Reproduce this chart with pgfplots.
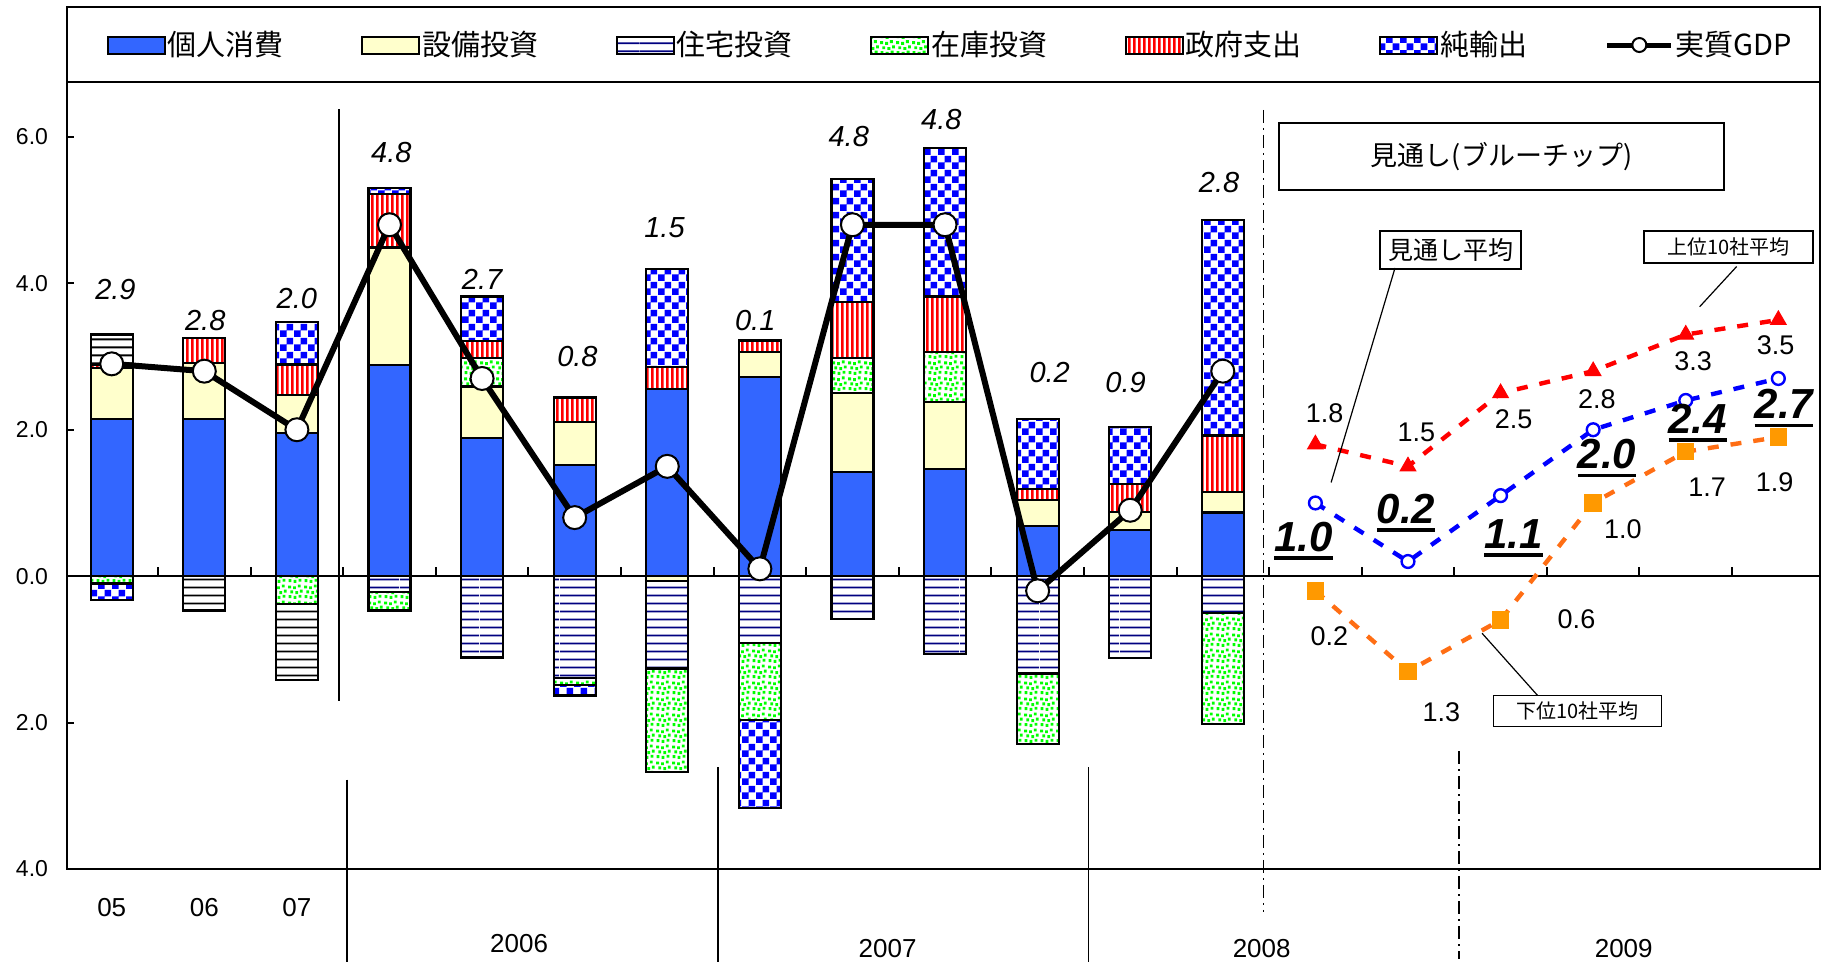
\documentclass[border=0pt]{standalone}
\usepackage{fontspec}
\setmainfont{Liberation Sans}
\newfontfamily\jp{Noto Sans CJK JP}
\usepackage{pgfplots}
\pgfplotsset{compat=1.18}
\usepackage{pgfplotstable}
\usetikzlibrary{patterns}

\definecolor{cons}{RGB}{51,102,255}
\definecolor{capex}{RGB}{255,255,204}
\definecolor{hnavy}{RGB}{0,0,128}
\definecolor{dotg}{RGB}{0,255,0}
\definecolor{omark}{RGB}{255,153,0}
\definecolor{oline}{RGB}{255,110,20}

% fill patterns (horizontal lines, vertical stripes, checker, dots)
\pgfdeclarepatternformonly{hl}{\pgfpointorigin}{\pgfpoint{40bp}{4bp}}{\pgfpoint{40bp}{4bp}}%
  {\pgfpathrectangle{\pgfpoint{0bp}{1.5bp}}{\pgfpoint{40bp}{1bp}}\pgfusepath{fill}}
\pgfdeclarepatternformonly{vl}{\pgfpointorigin}{\pgfpoint{2.4bp}{40bp}}{\pgfpoint{2.4bp}{40bp}}%
  {\pgfpathrectangle{\pgfpointorigin}{\pgfpoint{1.4bp}{40bp}}\pgfusepath{fill}}
\pgfdeclarepatternformonly{chk}{\pgfpointorigin}{\pgfpoint{7bp}{7bp}}{\pgfpoint{7bp}{7bp}}%
  {\pgfpathrectangle{\pgfpointorigin}{\pgfpoint{3.5bp}{3.5bp}}%
   \pgfpathrectangle{\pgfpoint{3.5bp}{3.5bp}}{\pgfpoint{3.5bp}{3.5bp}}\pgfusepath{fill}}
\pgfdeclarepatternformonly{gdots}{\pgfpointorigin}{\pgfpoint{8bp}{8bp}}{\pgfpoint{8bp}{8bp}}%
  {\pgfpathrectangle{\pgfpoint{0.3bp}{0.5bp}}{\pgfpoint{1.5bp}{1.5bp}}%
   \pgfpathrectangle{\pgfpoint{3.0bp}{0.1bp}}{\pgfpoint{1.5bp}{1.5bp}}%
   \pgfpathrectangle{\pgfpoint{5.6bp}{0.7bp}}{\pgfpoint{1.5bp}{1.5bp}}%
   \pgfpathrectangle{\pgfpoint{1.2bp}{3.0bp}}{\pgfpoint{1.5bp}{1.5bp}}%
   \pgfpathrectangle{\pgfpoint{3.9bp}{2.6bp}}{\pgfpoint{1.5bp}{1.5bp}}%
   \pgfpathrectangle{\pgfpoint{6.3bp}{3.4bp}}{\pgfpoint{1.5bp}{1.5bp}}%
   \pgfpathrectangle{\pgfpoint{0.1bp}{5.6bp}}{\pgfpoint{1.5bp}{1.5bp}}%
   \pgfpathrectangle{\pgfpoint{2.7bp}{5.2bp}}{\pgfpoint{1.5bp}{1.5bp}}%
   \pgfpathrectangle{\pgfpoint{5.2bp}{6.1bp}}{\pgfpoint{1.5bp}{1.5bp}}%
   \pgfusepath{fill}}

\newcommand\ulbox[1]{\setbox0=\hbox{#1}\rlap{\copy0}\rule[-4.2bp]{\wd0}{1.8bp}}

% contributions, positive and negative parts (x: 0-2 = 05-07, 3.. = 2006Q1..)
\pgfplotstableread{
x  c    i    hq  inv  g    nx   ha
0  2.15 0.69 0   0    0.05 0    0.41
1  2.15 0.76 0   0    0.34 0    0
2  1.96 0.52 0   0    0.41 0.58 0
3  2.88 1.61 0   0    0.73 0.08 0
4  1.89 0.70 0   0.39 0.23 0.61 0
5  1.52 0.59 0   0    0.33 0    0
6  2.56 0    0   0    0.30 1.34 0
7  2.72 0.34 0   0    0.16 0    0
8  1.42 1.08 0   0.48 0.77 1.67 0
9  1.46 0.92 0   0.68 0.76 2.03 0
10 0.68 0.36 0   0    0.15 0.96 0
11 0.63 0.25 0   0    0.38 0.78 0
12 0.87 0.28 0   0    0.77 2.95 0
}\postab
\pgfplotstableread{
x  c  i     hq    inv   g  nx    ha
0  0  0     0     -0.10 0  -0.23 0
1  0  0     0     0     0  0     -0.47
2  0  0     0     -0.38 0  0     -1.04
3  0  0     -0.22 -0.25 0  0     0
4  0  0     -1.11 0     0  0     0
5  0  0     -1.39 -0.10 0  -0.14 0
6  0  -0.07 -1.19 -1.42 0  0     0
7  0  0     -0.91 -1.05 0  -1.21 0
8  0  0     -0.59 0     0  0     0
9  0  0     -1.06 0     0  0     0
10 0  0     -1.33 -0.96 0  0     0
11 0  0     -1.12 0     0  0     0
12 0  0     -0.50 -1.52 0  0     0
}\negtab

\tikzset{dd/.style={line width=0.75bp, dash pattern=on 6.5bp off 2.5bp on 1bp off 2.5bp}}
\pgfplotsset{
  frame/.style={width=876.5bp, height=393.5bp, scale only axis,
    xmin=-0.483, xmax=18.45, ymin=-4, ymax=6.75},
  swatch/.style={legend image code/.code={\draw[##1,line width=1bp] (0bp,-4.25bp) rectangle (28.5bp,4.25bp);}},
  s1/.style={swatch, fill=cons, draw=black, line width=1.1bp},
  s2/.style={swatch, fill=capex, draw=black, line width=1.1bp},
  s3/.style={swatch, pattern=hl, pattern color=hnavy, draw=black, line width=1.1bp},
  s4/.style={swatch, pattern=gdots, pattern color=dotg, draw=black, line width=1.1bp},
  s5/.style={swatch, pattern=vl, pattern color=red, draw=black, line width=1.1bp},
  s6/.style={swatch, pattern=chk, pattern color=blue, draw=black, line width=1.1bp},
  s7/.style={pattern=hl, pattern color=black, draw=black, line width=1.1bp},
  fc/.style={line width=2.2bp, dash pattern=on 5.5bp off 6bp},
}

\begin{document}
\begin{tikzpicture}
% positive parts
\begin{axis}[frame, ybar stacked, bar width=21bp, clip=false,
  axis line style={line width=1bp},
  xtick=\empty,
  ytick={-4,-2,0,2,4,6}, yticklabels={4.0,2.0,0.0,2.0,4.0,6.0},
  ytick pos=left, tick align=inside, major tick length=3.5bp,
  tick style={line width=1bp, black},
  yticklabel style={font=\fontsize{11.5bp}{13bp}\selectfont, xshift=-6bp},
  legend columns=7,
  legend style={at={(0.504,1.047)}, anchor=center, draw=none, fill=none,
    font=\jp\fontsize{14.5bp}{16bp}\selectfont, nodes={inner xsep=1bp},
    /tikz/every even column/.append style={column sep=37.75bp}},
]
\addplot[s1] table[x=x,y=c]{\postab}; \addlegendentry{個人消費}
\addplot[s2] table[x=x,y=i]{\postab}; \addlegendentry{設備投資}
\addplot[s3] table[x=x,y=hq]{\postab}; \addlegendentry{住宅投資}
\addplot[s4] table[x=x,y=inv]{\postab}; \addlegendentry{在庫投資}
\addplot[s5] table[x=x,y=g]{\postab}; \addlegendentry{政府支出}
\addplot[s6] table[x=x,y=nx]{\postab}; \addlegendentry{純輸出}
\addplot[s7, forget plot] table[x=x,y=ha]{\postab};
\addlegendimage{legend image code/.code={
  \draw[black,line width=2.5bp] (0bp,0bp) -- (32bp,0bp);
  \draw[black,line width=1bp,fill=white] (16bp,0bp) circle (3.5bp);}}
\addlegendentry{実質GDP}
\draw[line width=1bp] (rel axis cs:0,1) -- ++(0bp,37.5bp) -| (rel axis cs:1,1);
\end{axis}

% negative parts
\begin{axis}[frame, ybar stacked, bar width=21bp, hide axis]
\addplot[s1, forget plot] table[x=x,y=c]{\negtab};
\addplot[s2, forget plot] table[x=x,y=i]{\negtab};
\addplot[s3, forget plot] table[x=x,y=hq]{\negtab};
\addplot[s4, forget plot] table[x=x,y=inv]{\negtab};
\addplot[s5, forget plot] table[x=x,y=g]{\negtab};
\addplot[s6, forget plot] table[x=x,y=nx]{\negtab};
\addplot[s7, forget plot] table[x=x,y=ha]{\negtab};
\end{axis}

% lines, labels, annotations
\begin{axis}[frame, hide axis, clip=false]
\coordinate (ll) at (rel axis cs:0,0);
\coordinate (ur) at (rel axis cs:1,1);
\draw[line width=1bp] ({rel axis cs:0,0}|-{axis cs:0,0}) -- ({rel axis cs:1,0}|-{axis cs:0,0});
\pgfplotsinvokeforeach{0,...,17}{\draw[line width=1bp] (axis cs:#1.5,0) -- ++(0bp,4.5bp);}

\draw[line width=0.75bp] (axis cs:2.456,6.38) -- (axis cs:2.456,-1.71);
\draw[line width=0.75bp] (axis cs:2.54,-2.78) -- (axis cs:2.54,-5.27);
\draw[line width=0.75bp] (axis cs:6.55,-2.61) -- (axis cs:6.55,-5.27);
\draw[line width=0.75bp] (axis cs:10.55,-2.61) -- (axis cs:10.55,-5.27);
\draw[dd] (axis cs:12.44,6.37) -- (axis cs:12.44,-4.59);
\draw[dd] (axis cs:14.55,-2.39) -- (axis cs:14.55,-5.23);

% real GDP
\addplot[black, line width=3bp, mark=*, mark size=5.75bp,
  mark options={fill=white, draw=black, line width=1bp}] table {
x y
0 2.9
1 2.8
2 2.0
3 4.8
4 2.7
5 0.8
6 1.5
7 0.1
8 4.8
9 4.8
10 -0.2
11 0.9
12 2.8
};
% Blue Chip outlook: top 10, consensus, bottom 10
\addplot[red, fc, mark=triangle*, mark size=4.5bp,
  mark options={solid, fill=red, line width=0.5bp}] table {
x y
13 1.8
14 1.5
15 2.5
16 2.8
17 3.3
18 3.5
};
\addplot[oline, fc, mark=square*, mark size=3.25bp,
  mark options={solid, fill=omark, draw=omark}] table {
x y
13 -0.2
14 -1.3
15 -0.6
16 1.0
17 1.7
18 1.9
};
\addplot[blue, fc, mark=*, mark size=3.2bp,
  mark options={solid, fill=white, draw=blue, line width=1.2bp}] table {
x y
13 1.0
14 0.2
15 1.1
16 2.0
17 2.4
18 2.7
};

% value labels
\addplot[draw=none, nodes near coords, point meta=explicit symbolic,
  nodes near coords style={anchor=center, text=black,
    font=\itshape\fontsize{14.5bp}{16bp}\selectfont}] table[meta=l] {
x y l
0.04 3.91 2.9
1.01 3.49 2.8
2.00 3.79 2.0
3.02 5.79 4.8
4.00 4.06 2.7
5.03 3.00 0.8
5.97 4.76 1.5
6.95 3.49 0.1
7.96 6.00 4.8
8.96 6.24 4.8
10.13 2.78 0.2
10.95 2.64 0.9
11.96 5.38 2.8
};
\addplot[draw=none, nodes near coords, point meta=explicit symbolic,
  nodes near coords style={anchor=center, text=black,
    font=\fontsize{13.5bp}{15bp}\selectfont}] table[meta=l] {
x y l
13.10 2.23 1.8
14.09 1.97 1.5
15.14 2.15 2.5
16.04 2.42 2.8
17.08 2.93 3.3
17.97 3.16 3.5
13.15 -0.82 0.2
14.36 -1.86 1.3
15.82 -0.59 0.6
16.32 0.64 1.0
17.23 1.21 1.7
17.96 1.29 1.9
};
\addplot[draw=none, nodes near coords={\ulbox{\pgfplotspointmeta}},
  point meta=explicit symbolic,
  nodes near coords style={anchor=center, text=black,
    font=\bfseries\itshape\fontsize{21bp}{24bp}\selectfont}] table[meta=l] {
x y l
12.87 0.48 1.0
13.98 0.86 0.2
15.14 0.52 1.1
16.15 1.61 2.0
17.13 2.09 2.4
18.06 2.29 2.7
};

% annotation boxes
\node[draw, line width=0.9bp, minimum width=222.5bp, minimum height=33.5bp, inner sep=0pt,
  font=\jp\fontsize{13.5bp}{15bp}\selectfont] at (axis cs:15.01,5.73) {見通し(ブルーチップ)};
\node[draw, line width=0.9bp, minimum width=70.75bp, minimum height=19bp, inner sep=0pt,
  font=\jp\fontsize{12.5bp}{14bp}\selectfont] at (axis cs:14.46,4.46) {見通し平均};
\node[draw, line width=0.8bp, minimum width=84.5bp, minimum height=16bp, inner sep=0pt,
  font=\jp\fontsize{10bp}{12bp}\selectfont] at (axis cs:17.46,4.50) {上位10社平均};
\node[draw, line width=0.8bp, minimum width=84bp, minimum height=15.5bp, inner sep=0pt,
  font=\jp\fontsize{10bp}{12bp}\selectfont] at (axis cs:15.83,-1.84) {下位10社平均};
\draw[line width=0.6bp] (axis cs:13.86,4.21) -- (axis cs:13.17,1.28);
\draw[line width=0.6bp] (axis cs:17.55,4.23) -- (axis cs:17.15,3.68);
\draw[line width=0.6bp] (axis cs:15.40,-1.63) -- (axis cs:14.80,-0.78);

% category labels
\begin{scope}[font=\fontsize{13bp}{15bp}\selectfont]
\node at (axis cs:0,-4.52) {05};
\node at (axis cs:1,-4.52) {06};
\node at (axis cs:2,-4.52) {07};
\node at (axis cs:4.40,-5.02) {2006};
\node at (axis cs:8.38,-5.09) {2007};
\node at (axis cs:12.42,-5.09) {2008};
\node at (axis cs:16.33,-5.09) {2009};
\end{scope}
\end{axis}
\pgfresetboundingbox
\path[use as bounding box] ([shift={(-33.5bp,-49bp)}]ll) rectangle ([shift={(1bp,41bp)}]ur);
\end{tikzpicture}
\end{document}
